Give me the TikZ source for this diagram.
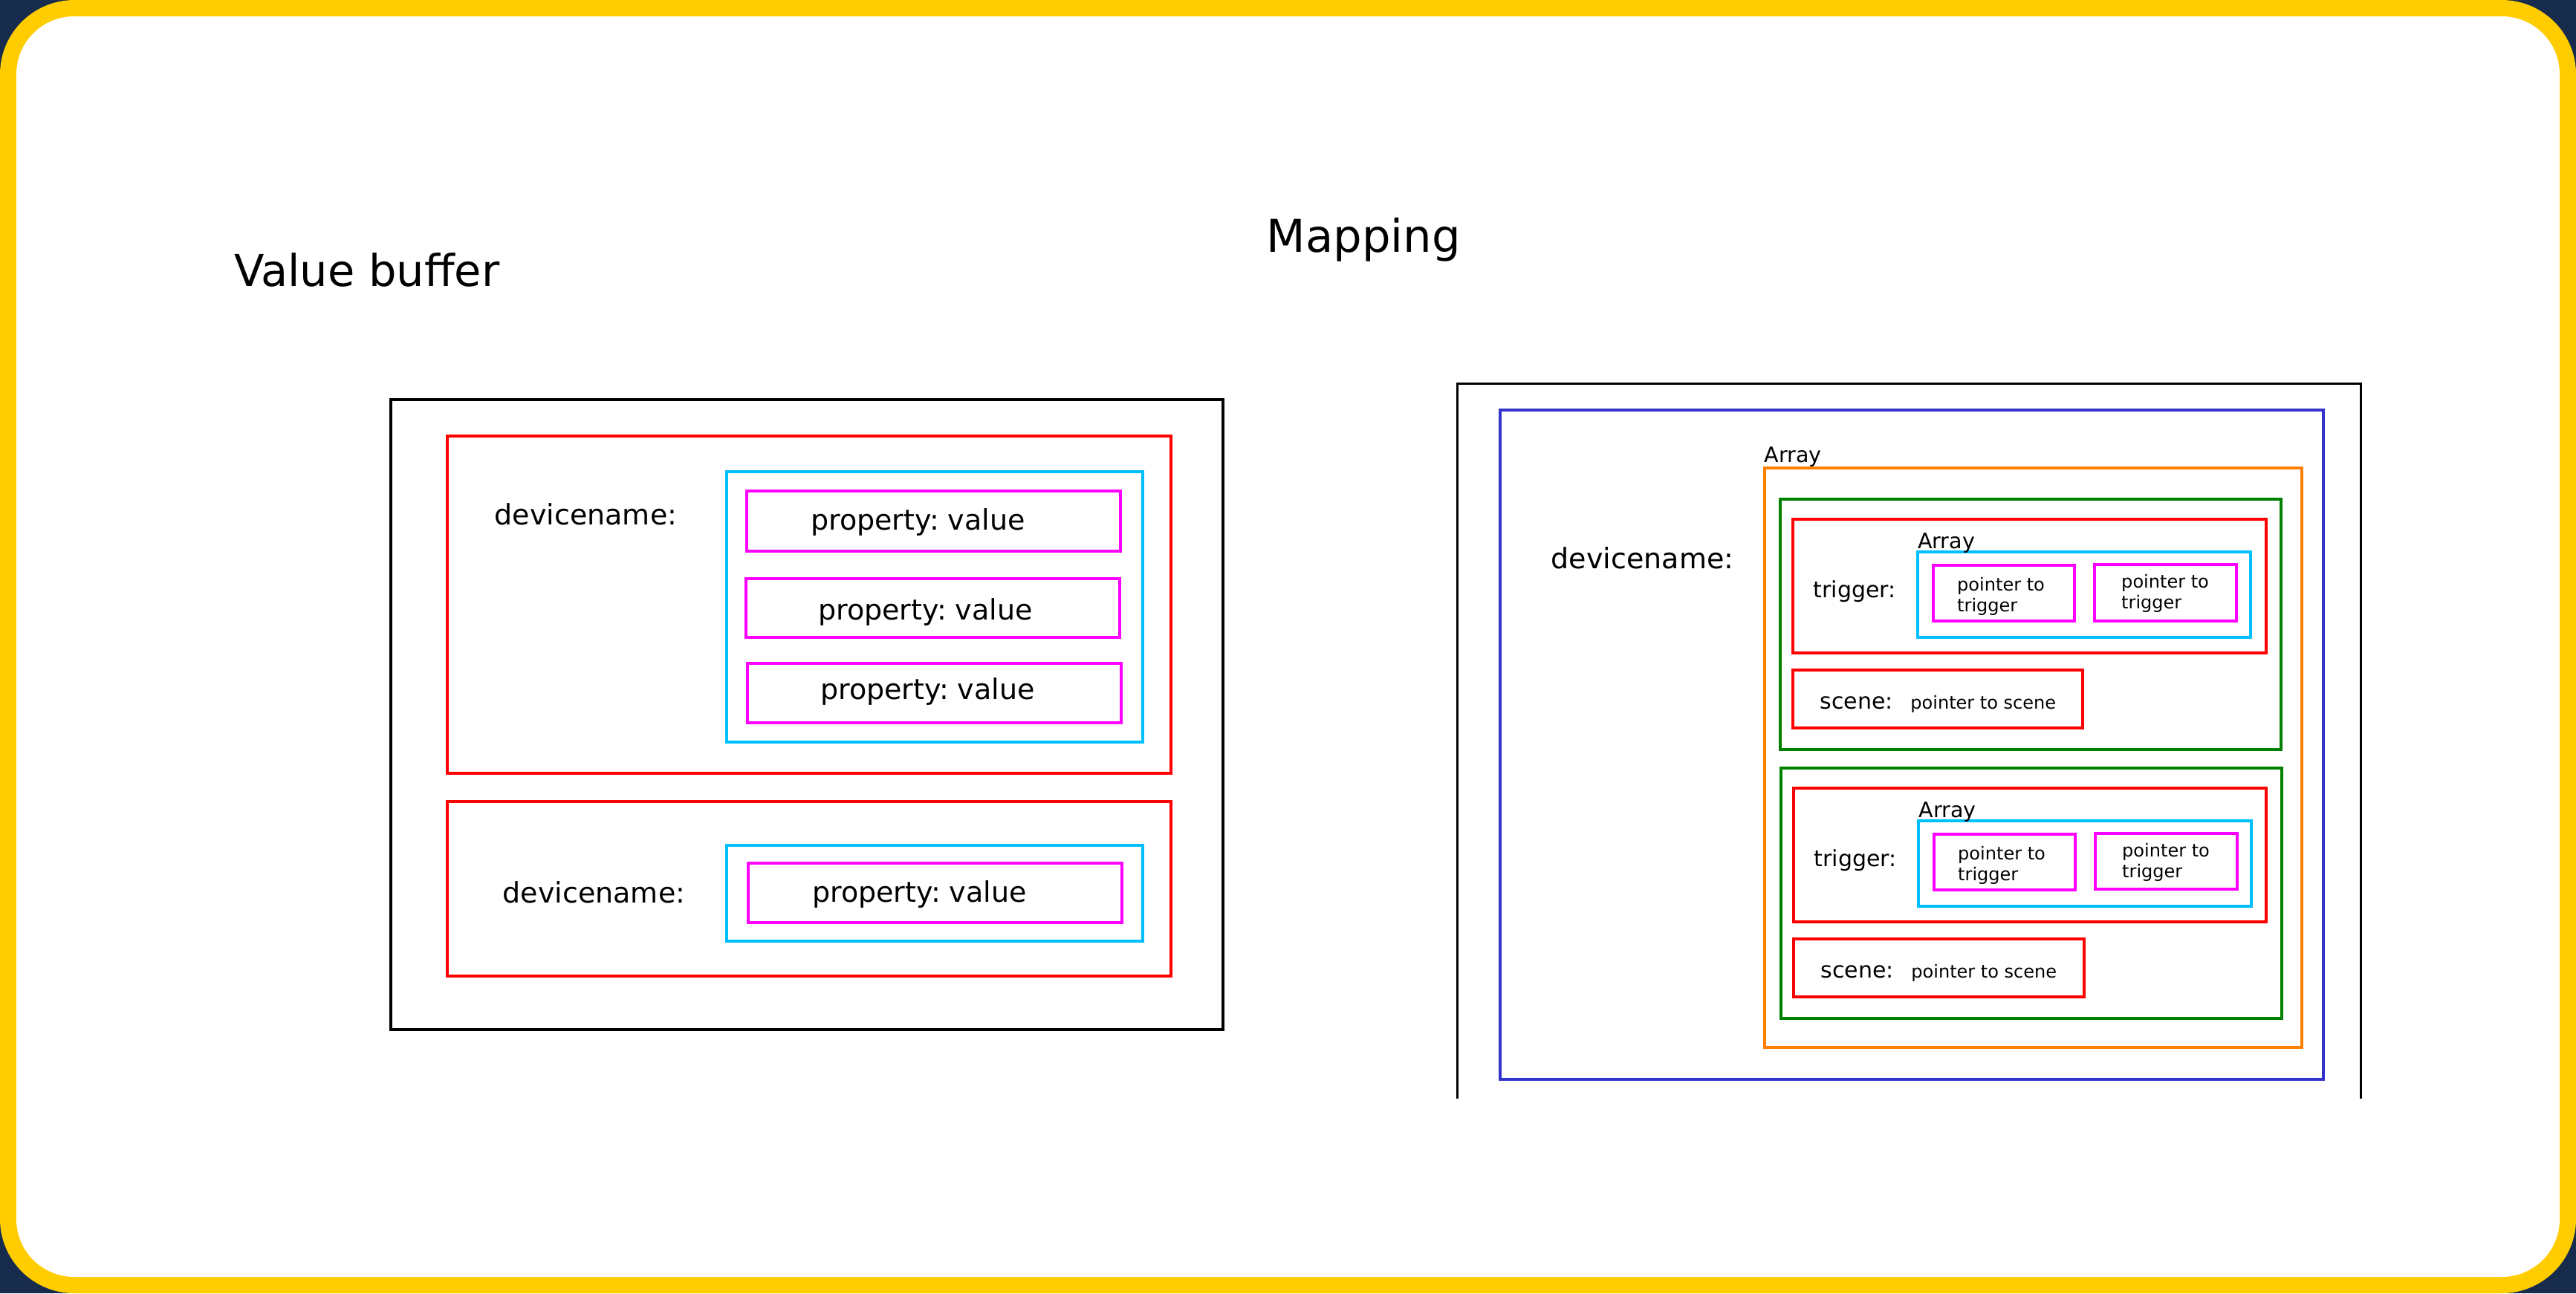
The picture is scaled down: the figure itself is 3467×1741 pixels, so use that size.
\documentclass[tikz,border=0pt]{standalone}
\usepackage{fontspec}
\setmainfont{DejaVu Sans}
\usetikzlibrary{fit}
\frenchspacing
\definecolor{navybg}{RGB}{23,43,77}
\definecolor{frameyellow}{RGB}{255,204,0}
\definecolor{cyanbox}{RGB}{0,191,255}
\definecolor{bluebox}{RGB}{51,51,204}
\definecolor{orangebox}{RGB}{255,128,0}
\definecolor{greenbox}{RGB}{0,128,0}
\definecolor{redbox}{RGB}{255,0,0}
\definecolor{magbox}{RGB}{255,0,255}
\newcommand\mkbox[6]{%
  \coordinate (#1-nw) at (#2,#3);
  \coordinate (#1-se) at (#4,#5);
  \node[bx=#6, fit=(#1-nw)(#1-se)] (#1) {};}
\begin{document}
\frenchspacing
\begin{tikzpicture}[x=0.01cm,y=-0.01cm,
  bx/.style={draw=#1, line width=0.032cm, inner sep=0pt, line join=miter},
  txt/.style={anchor=base west, inner sep=0pt, text=black},
  titlef/.style={txt, font=\fontsize{17.07}{20}\selectfont},
  bigf/.style={txt, font=\fontsize{10.81}{13}\selectfont},
  midf/.style={txt, font=\fontsize{8.54}{10}\selectfont},
  arrf/.style={txt, font=\fontsize{8.11}{10}\selectfont},
  smallf/.style={txt, font=\fontsize{6.83}{7.97}\selectfont}]
% background and frame
\fill[navybg] (0,0) rectangle (3467,1741);
\useasboundingbox (0,0) rectangle (3467,1741);
\fill[frameyellow, rounded corners=1cm] (0,0) rectangle (3467,1741);
\fill[white, rounded corners=0.78cm] (22,22) rectangle (3445,1719);

% titles
\node[titlef, font=\fontsize{16.8}{20}\selectfont] (tvb) at (314.5,385) {Value buffer};
\node[titlef, font=\fontsize{17.3}{20}\selectfont] (tmap) at (1704,339) {Mapping};

% ---------------- Value buffer ----------------
\mkbox{lb}{526}{538}{1646}{1386}{black}
\mkbox{r1}{602}{587}{1576}{1041}{redbox}
\mkbox{c1}{978}{635}{1538}{999}{cyanbox}
\mkbox{m1}{1005}{661}{1508}{742}{magbox}
\mkbox{m2}{1004}{779}{1507}{858}{magbox}
\mkbox{m3}{1006}{893}{1509}{973}{magbox}
\mkbox{r2}{602}{1079}{1576}{1314}{redbox}
\mkbox{c2}{978}{1138}{1538}{1267}{cyanbox}
\mkbox{m4}{1007}{1162}{1510}{1242}{magbox}

\node[bigf] (dn1) at (665,706) {devicename:};
\node[bigf] (dn2) at (676,1215) {devicename:};
\node[bigf] (pv1) at (1090.4,713) {property: value};
\node[bigf] (pv2) at (1100.4,834) {property: value};
\node[bigf] (pv3) at (1103.4,941) {property: value};
\node[bigf] (pv4) at (1092.4,1214) {property: value};

% ---------------- Mapping ----------------
\coordinate (kb-bl) at (1961,1479);
\coordinate (kb-tl) at (1961,516);
\coordinate (kb-tr) at (3177,516);
\coordinate (kb-br) at (3177,1479);
\draw[black, line width=0.03cm, line join=miter] (kb-bl) -- (kb-tl) -- (kb-tr) -- (kb-br);

\mkbox{bl}{2019}{552}{3127}{1453}{bluebox}
\mkbox{or}{2375}{630}{3098}{1410}{orangebox}
\node[arrf] (arr0) at (2374,622) {Array};
\node[bigf] (dn3) at (2087,765) {devicename:};

% group 1
\mkbox{g1}{2396}{672}{3070}{1009}{greenbox}
\mkbox{t1}{2413}{699}{3050}{879}{redbox}
\mkbox{a1}{2581}{743}{3029}{858}{cyanbox}
\mkbox{p1}{2602}{761}{2792}{836}{magbox}
\mkbox{p2}{2819}{760}{3010}{836}{magbox}
\mkbox{s1}{2413}{902}{2803}{980}{redbox}
\node[arrf] (arr1) at (2580.5,738) {Array};
\node[midf] (tr1) at (2440,804) {trigger:};
\node[smallf] (pt1) at (2633.5,795) {\begin{tabular}[t]{@{}l@{}}pointer to\\trigger\end{tabular}};
\node[smallf] (pt2) at (2854.5,791) {\begin{tabular}[t]{@{}l@{}}pointer to\\trigger\end{tabular}};
\node[midf] (sc1) at (2449,954) {scene:};
\node[smallf] (ps1) at (2570.7,954) {pointer to scene};

% group 2
\mkbox{g2}{2397}{1034}{3071}{1371}{greenbox}
\mkbox{t2}{2414}{1061}{3050}{1241}{redbox}
\mkbox{a2}{2582}{1105}{3030}{1220}{cyanbox}
\mkbox{p3}{2603}{1123}{2793}{1198}{magbox}
\mkbox{p4}{2820}{1122}{3011}{1197}{magbox}
\mkbox{s2}{2414}{1264}{2805}{1342}{redbox}
\node[arrf] (arr2) at (2582,1100) {Array};
\node[midf] (tr2) at (2441,1166) {trigger:};
\node[smallf] (pt3) at (2634.5,1157) {\begin{tabular}[t]{@{}l@{}}pointer to\\trigger\end{tabular}};
\node[smallf] (pt4) at (2855.5,1153) {\begin{tabular}[t]{@{}l@{}}pointer to\\trigger\end{tabular}};
\node[midf] (sc2) at (2450,1316) {scene:};
\node[smallf] (ps2) at (2571.7,1316) {pointer to scene};
\end{tikzpicture}
\end{document}
